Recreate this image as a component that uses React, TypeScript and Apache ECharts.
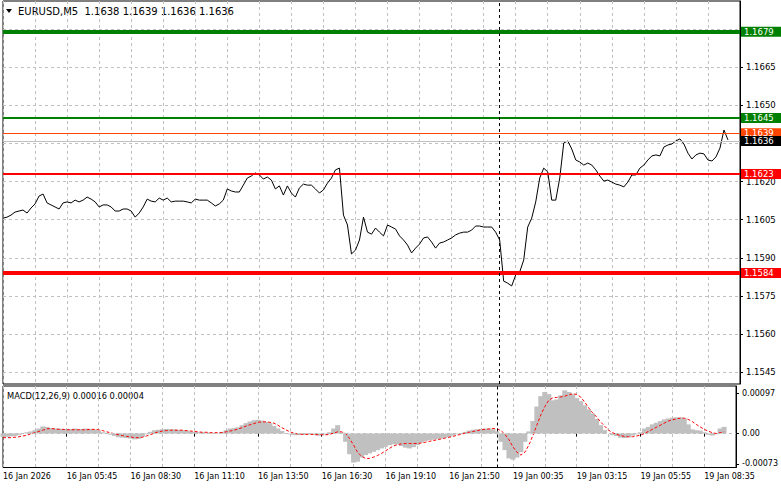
import React, { useEffect, useRef } from 'react';
import * as echarts from 'echarts';

const FONT = '"DejaVu Sans", Tahoma, Verdana, sans-serif';

// x-axis time labels (one every 16 points)
const timeLabels = [
  '16 Jan 2026', '16 Jan 05:45', '16 Jan 08:30', '16 Jan 11:10', '16 Jan 13:50', '16 Jan 16:30',
  '16 Jan 19:10', '16 Jan 21:50', '19 Jan 00:35', '19 Jan 03:15', '19 Jan 05:55', '19 Jan 08:35',
];
const CATEGORY_COUNT = 185;
const LABEL_EVERY = 16;
const SEPARATOR_INDEX = 124;

// EURUSD close prices (sampled every 10 minutes)
const priceValues = [
  1.16056, 1.1606, 1.16068, 1.1608, 1.16084, 1.16088, 1.16076, 1.16096, 1.16112, 1.16143,
  1.16151, 1.16116, 1.16108, 1.161, 1.16092, 1.16116, 1.1612, 1.16116, 1.16127, 1.1612,
  1.16127, 1.16139, 1.16131, 1.1612, 1.161, 1.16108, 1.16108, 1.161, 1.16084, 1.16084,
  1.16092, 1.16092, 1.16084, 1.1606, 1.16076, 1.161, 1.16131, 1.16123, 1.1612, 1.16135,
  1.16127, 1.16135, 1.1612, 1.16123, 1.16123, 1.16123, 1.1612, 1.16116, 1.16131, 1.16127,
  1.16127, 1.16127, 1.16116, 1.16104, 1.16112, 1.16127, 1.16171, 1.16163, 1.16159, 1.16159,
  1.16186, 1.16214, 1.16222, 1.16234, 1.16226, 1.1621, 1.16218, 1.16206, 1.16171, 1.16183,
  1.16147, 1.16183, 1.16155, 1.16139, 1.16175, 1.1619, 1.16186, 1.16186, 1.16171, 1.16155,
  1.16167, 1.16194, 1.16214, 1.16246, 1.16253, 1.16068, 1.16029, 1.15915, 1.1593, 1.1597,
  1.1606, 1.16001, 1.15993, 1.16017, 1.16001, 1.15986, 1.16029, 1.16021, 1.16013, 1.15986,
  1.1597, 1.1595, 1.15919, 1.15938, 1.15954, 1.15978, 1.15982, 1.15962, 1.15938, 1.15958,
  1.15962, 1.1597, 1.15978, 1.1599, 1.15997, 1.16001, 1.16001, 1.16009, 1.16025, 1.16025,
  1.16021, 1.16021, 1.16021, 1.16001, 1.1597, 1.15808, 1.158, 1.15789, 1.15832, 1.15844,
  1.15891, 1.16021, 1.16056, 1.1612, 1.16214, 1.16253, 1.16238, 1.16127, 1.16127, 1.16214,
  1.16352, 1.1636, 1.16328, 1.16285, 1.16277, 1.16265, 1.16273, 1.16265, 1.16246, 1.16222,
  1.16202, 1.16206, 1.16198, 1.1619, 1.16186, 1.16179, 1.16198, 1.16226, 1.16226, 1.16253,
  1.16265, 1.16285, 1.16301, 1.16305, 1.16301, 1.16336, 1.16344, 1.16348, 1.1636, 1.16368,
  1.16348, 1.16312, 1.16289, 1.16305, 1.16312, 1.16309, 1.16285, 1.16281, 1.16297, 1.16332,
  1.16403, 1.16364,
];

// MACD histogram (main line) values
const macdHist = [
  -0.00008, -0.00008, -0.00007, -0.00006, -0.00004, 0.0, 0.00003, 0.00005, 0.00008, 0.00012,
  0.00017, 0.00016, 0.00013, 0.00012, 0.00012, 0.00011, 0.00011, 0.00011, 0.00012, 0.00011,
  0.00011, 0.00012, 0.00011, 0.0001, 0.00007, 0.00003, 0.0, -0.00003, -0.00006, -0.00009,
  -0.0001, -0.00011, -0.00012, -0.00014, -0.00013, -0.00008, -0.00002, 0.00004, 0.00008, 0.00009,
  0.0001, 0.00011, 0.0001, 0.0001, 0.00009, 0.00008, 0.00007, 0.00005, 0.00004, 0.00003,
  0.00003, 0.00002, 0.00002, 0.0, 0.00001, 0.00004, 0.00008, 0.00012, 0.00013, 0.00015,
  0.0002, 0.00025, 0.00029, 0.00032, 0.00033, 0.00031, 0.00028, 0.00025, 0.00018, 0.00012,
  0.00006, 0.00001, -0.00002, -0.00004, -0.00004, -0.00003, -0.00003, -0.00002, -0.00003, -0.00005,
  -0.00004, -0.00002, 0.00003, 0.00012, 0.0002, 0.00002, -0.0002, -0.0005, -0.0007, -0.00068,
  -0.00058, -0.00052, -0.00048, -0.00044, -0.0004, -0.00036, -0.00032, -0.00028, -0.00026, -0.00026,
  -0.0003, -0.00034, -0.00036, -0.00033, -0.00028, -0.00022, -0.00018, -0.00016, -0.00015, -0.00013,
  -0.00012, -0.0001, -0.00008, -0.00005, -0.00002, 0.00001, 0.00004, 0.00007, 0.00009, 0.0001,
  0.00011, 0.00012, 0.00012, 0.0001, 0.00005, -0.0002, -0.0004, -0.0006, -0.00063, -0.00058,
  -0.00045, -0.0002, 0.00005, 0.0003, 0.00065, 0.0009, 0.001, 0.00095, 0.0008, 0.00082,
  0.00092, 0.00104, 0.001, 0.00095, 0.00085, 0.00078, 0.00068, 0.00058, 0.00048, 0.00035,
  0.0002, 0.00008, 0.0, -0.00004, -0.00006, -0.0001, -0.00011, -0.00009, -0.00005, -0.00002,
  0.00003, 0.00012, 0.00016, 0.00022, 0.00026, 0.0003, 0.00034, 0.00036, 0.00038, 0.00039,
  0.00039, 0.00036, 0.00022, 0.0001, 0.00008, 0.00007, 0.00003, -0.00003, -0.00005, -0.00002,
  0.00012, 0.00016,
];

// MACD signal line values
const macdSignal = [
  -0.0001, -0.0001, -0.0001, -0.00009, -0.00008, -0.00006, -0.00004, -0.00001, 0.00002, 0.00005,
  0.00008, 0.00011, 0.00012, 0.00011, 0.0001, 0.0001, 0.00009, 0.00009, 0.00009, 0.00009,
  0.00009, 0.00009, 0.0001, 0.0001, 0.00009, 0.00007, 0.00004, 0.00002, -0.00001, -0.00003,
  -0.00005, -0.00007, -0.00008, -0.0001, -0.0001, -0.00009, -0.00006, -0.00003, 0.00001, 0.00004,
  0.00006, 0.00007, 0.00008, 0.00008, 0.00008, 0.00008, 0.00007, 0.00006, 0.00005, 0.00004,
  0.00003, 0.00003, 0.00002, 0.00002, 0.00002, 0.00002, 0.00004, 0.00006, 0.00008, 0.00011,
  0.00014, 0.00018, 0.00021, 0.00024, 0.00027, 0.00028, 0.00028, 0.00027, 0.00025, 0.0002,
  0.00014, 0.00009, 0.00004, 0.00001, -0.00001, -0.00002, -0.00002, -0.00002, -0.00002, -0.00003,
  -0.00003, -0.00003, -0.00002, 0.00001, 0.00004, 0.00004, 0.0, -0.00012, -0.00028, -0.00045,
  -0.00055, -0.0006, -0.0006, -0.00057, -0.00053, -0.00048, -0.00042, -0.00036, -0.0003, -0.00027,
  -0.00025, -0.00024, -0.00024, -0.00024, -0.00024, -0.00023, -0.00021, -0.00019, -0.00017, -0.00015,
  -0.00013, -0.00011, -0.00009, -0.00007, -0.00004, -0.00002, 0.00001, 0.00003, 0.00005, 0.00007,
  0.00009, 0.0001, 0.00011, 0.00012, 0.00011, 0.00007, -0.00002, -0.00015, -0.00032, -0.00045,
  -0.00052, -0.00045, -0.00028, -0.00005, 0.0002, 0.00045, 0.00065, 0.0008, 0.00086, 0.00087,
  0.00088, 0.0009, 0.00093, 0.00096, 0.00094, 0.00088, 0.00076, 0.00062, 0.0005, 0.0004,
  0.00028, 0.00018, 0.00008, 0.00002, -0.00002, -0.00005, -0.00007, -0.00008, -0.00008, -0.00006,
  -0.00004, 0.0, 0.00005, 0.0001, 0.00015, 0.0002, 0.00025, 0.0003, 0.00033, 0.00035,
  0.00037, 0.00037, 0.00034, 0.00029, 0.00022, 0.00016, 0.0001, 0.00006, 0.00002, 0.0,
  0.00002, 0.00004,
];

// price axis
const priceGridValues = [1.1545, 1.156, 1.1575, 1.159, 1.1605, 1.162, 1.1635, 1.165, 1.1665, 1.168];
const priceAxisLabels = [1.1545, 1.156, 1.1575, 1.159, 1.1605, 1.162, 1.165, 1.1665];
const PRICE_MIN = 1.15403;
const PRICE_MAX = 1.16911;

// MACD axis
const macdAxisLabels = [-0.00073, 0, 0.00097];
const MACD_MIN = -0.000819;
const MACD_MAX = 0.0011446;

// horizontal levels
const levelPrices = [1.1679, 1.1645, 1.1623, 1.1584];
const askPrice = 1.1639;
const bidPrice = 1.1636;

// header values
const ohlcValues = [1.1638, 1.1639, 1.1636, 1.1636];
const macdHeaderValues = [0.00016, 0.00004];

const GREEN = '#008000';
const RED = '#ff0000';
const GRID_COLOR = '#c0c0c0';

export default function App() {
  const ref = useRef<HTMLDivElement>(null);

  useEffect(() => {
    if (!ref.current) return;
    const chart = echarts.init(ref.current, null, { renderer: 'svg' });

    const categories = Array.from({ length: CATEGORY_COUNT }, (_, i) => String(i));
    const levelStyles = [
      { color: GREEN, width: 4 },
      { color: GREEN, width: 2 },
      { color: RED, width: 2 },
      { color: RED, width: 4 },
    ];
    const splitLine = {
      show: true,
      interval: 7,
      lineStyle: { color: GRID_COLOR, type: [3, 3], width: 1 },
    };

    const option: any = {
      animation: false,
      backgroundColor: '#ffffff',
      textStyle: { fontFamily: FONT },
      grid: [
        {
          left: 3, right: 41, top: 1, height: 383,
          show: true, borderColor: '#000', borderWidth: 1, backgroundColor: 'transparent',
        },
        {
          left: 3, right: 41, top: 386, height: 81.5,
          show: true, borderColor: '#000', borderWidth: 1, backgroundColor: 'transparent',
        },
      ],
      xAxis: [
        {
          type: 'category', gridIndex: 0, data: categories, boundaryGap: false,
          axisLine: { show: false }, axisTick: { show: false }, axisLabel: { show: false },
          splitLine,
        },
        {
          type: 'category', gridIndex: 1, data: categories, boundaryGap: false, position: 'bottom',
          axisLine: { show: false },
          axisTick: { show: true, interval: LABEL_EVERY - 1, length: 3, lineStyle: { color: '#000' } },
          axisLabel: {
            interval: LABEL_EVERY - 1, align: 'left', margin: 5, fontSize: 8, color: '#000',
            fontFamily: FONT,
            formatter: (_v: string, i: number) =>
              i % LABEL_EVERY === 0 ? timeLabels[i / LABEL_EVERY] ?? '' : '',
          },
          splitLine,
        },
      ],
      yAxis: [
        {
          type: 'value', gridIndex: 0, position: 'right', min: PRICE_MIN, max: PRICE_MAX,
          axisLine: { show: true, lineStyle: { color: '#000', width: 1 } },
          axisTick: { show: true, length: 3, customValues: priceGridValues, lineStyle: { color: '#000' } },
          axisLabel: {
            customValues: priceAxisLabels, margin: 6, fontSize: 8.5, color: '#000', fontFamily: FONT,
            formatter: (v: number) => v.toFixed(4),
          },
          splitLine: { show: true, lineStyle: { color: GRID_COLOR, type: [3, 3], width: 1 } },
        },
        {
          type: 'value', gridIndex: 1, position: 'right', min: MACD_MIN, max: MACD_MAX,
          axisLine: { show: true, lineStyle: { color: '#000', width: 1 } },
          axisTick: { show: true, length: 3, customValues: macdAxisLabels, lineStyle: { color: '#000' } },
          axisLabel: {
            customValues: macdAxisLabels, margin: 6, fontSize: 8, color: '#000', fontFamily: FONT,
            formatter: (v: number) => (v === 0 ? '0.00' : v.toFixed(5)),
          },
          splitLine: { show: false },
        },
      ],
      series: [
        {
          name: 'EURUSD', type: 'line', xAxisIndex: 0, yAxisIndex: 0,
          data: priceValues, symbol: 'none', showSymbol: false, z: 3,
          lineStyle: { color: '#000', width: 1 },
          markLine: {
            silent: true, symbol: ['none', 'none'], animation: false, precision: 5,
            label: {
              show: true, position: 'end', distance: 1, color: '#fff', fontSize: 8.5,
              fontFamily: FONT, padding: [1, 10, 0, 3], lineHeight: 9,
              formatter: (p: any) => Number(p.value).toFixed(4),
            },
            data: [
              ...levelPrices.map((p, i) => ({
                yAxis: p,
                lineStyle: { color: levelStyles[i].color, width: levelStyles[i].width, type: 'solid' },
                label: { backgroundColor: levelStyles[i].color },
              })),
              {
                yAxis: askPrice,
                lineStyle: { color: '#ff4500', width: 1, type: 'solid' },
                label: { backgroundColor: '#ff4500' },
              },
              {
                yAxis: bidPrice,
                lineStyle: { color: '#c0c0c0', width: 1, type: 'solid' },
                label: { backgroundColor: '#000000' },
              },
              {
                xAxis: SEPARATOR_INDEX,
                lineStyle: { color: '#000', width: 1, type: [3, 3] },
                label: { show: false },
              },
            ],
          },
        },
        {
          name: 'MACD', type: 'bar', xAxisIndex: 1, yAxisIndex: 1,
          data: macdHist, barWidth: 5, itemStyle: { color: '#c0c0c0' }, z: 2,
          markLine: {
            silent: true, symbol: ['none', 'none'], animation: false, precision: 6,
            label: { show: false },
            data: [
              { yAxis: 0, lineStyle: { color: '#c0c0c0', width: 1, type: [3, 3] } },
              { xAxis: SEPARATOR_INDEX, lineStyle: { color: '#000', width: 1, type: [3, 3] } },
            ],
          },
        },
        {
          name: 'Signal', type: 'line', xAxisIndex: 1, yAxisIndex: 1,
          data: macdSignal, symbol: 'none', showSymbol: false, z: 4,
          lineStyle: { color: '#ff0000', width: 1, type: [3, 2] },
        },
      ],
      graphic: [
        {
          type: 'polygon', silent: true,
          shape: { points: [[6, 9], [12, 9], [9, 13]] },
          style: { fill: '#000' },
        },
        {
          type: 'text', x: 18, y: 11, silent: true,
          style: {
            text: 'EURUSD,M5\u00a0\u00a0' + ohlcValues.map((v) => v.toFixed(4)).join(' '),
            fill: '#000', font: `10px ${FONT}`, verticalAlign: 'middle',
          },
        },
        {
          type: 'text', x: 7, y: 396, silent: true,
          style: {
            text: 'MACD(12,26,9) ' + macdHeaderValues.map((v) => v.toFixed(5)).join(' '),
            fill: '#000', font: `8.3px ${FONT}`, verticalAlign: 'middle',
          },
        },
      ],
    };

    chart.setOption(option);
    return () => chart.dispose();
  }, []);

  return (
    <div
      ref={ref}
      style={{ position: 'absolute', left: 0, top: 0, width: 781, height: 489, background: '#fff' }}
    />
  );
}
